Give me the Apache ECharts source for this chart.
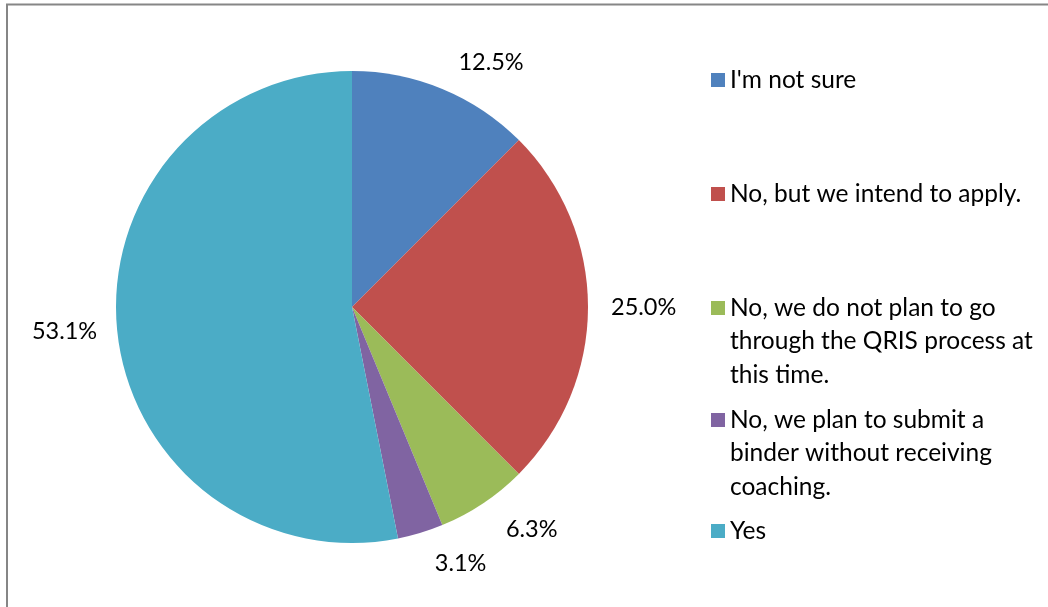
<!DOCTYPE html>
<html>
<head>
<meta charset="utf-8">
<script src="https://cdn.jsdelivr.net/npm/echarts@6/dist/echarts.min.js"></script>
<style>html,body{margin:0;padding:0;background:#fff}#c{width:1048px;height:607px}</style>
</head>
<body>
<div id="c"></div>
<script>
const categories = ["I'm not sure", "No, but we intend to apply.", "No, we do not plan to go through the QRIS process at this time.", "No, we plan to submit a binder without receiving coaching.", "Yes"];
const legendLabels = ["I'm not sure", "No, but we intend to apply.", "No, we do not plan to go\nthrough the QRIS process at\nthis time.", "No, we plan to submit a\nbinder without receiving\ncoaching.", "Yes"];
const counts = [4, 8, 2, 1, 17];
const colors = ['#4F81BD', '#C0504D', '#9BBB59', '#8064A2', '#4BACC6'];

const FONT = 'Lato';
const LINE_H = 33.5;
const labelLen = [29, 18, 32, 32, 15];
const legendCenters = [80, 194, 308, 420, 531];

const total = counts.reduce((a, b) => a + b, 0);
const legends = categories.map((name, i) => {
  const nLines = legendLabels[i].split('\n').length;
  // blank lines above keep the swatch level with the first text line
  const text = '\n'.repeat(nLines - 1) + legendLabels[i];
  const boxH = (2 * nLines - 1) * LINE_H;
  return {
    data: [name],
    orient: 'vertical',
    left: 706,
    top: legendCenters[i] - boxH / 2 - 5,
    itemWidth: 14,
    itemHeight: 14,
    icon: 'rect',
    formatter: () => text,
    textStyle: {
      fontFamily: FONT, fontSize: 24.5, color: '#000', lineHeight: LINE_H
    }
  };
});

const chart = echarts.init(document.getElementById('c'), null, {renderer: 'canvas'});
chart.setOption({
  animation: false,
  color: colors,
  graphic: [{
    type: 'rect', silent: true, z: -10,
    shape: {x: 7, y: 4.5, width: 2000, height: 2000},
    style: {fill: 'none', stroke: '#868686', lineWidth: 2}
  }],
  legend: legends,
  series: [{
    type: 'pie',
    center: [352, 307],
    radius: 236,
    startAngle: 90,
    clockwise: true,
    avoidLabelOverlap: false,
    itemStyle: {borderWidth: 0},
    label: {
      show: true, position: 'outside',
      fontFamily: FONT, fontSize: 23.5, color: '#000',
      formatter: p => (p.value / total * 100).toFixed(1) + '%'
    },
    labelLine: {show: false, length2: 0},
    emphasis: {disabled: true},
    data: categories.map((name, i) => ({
      name, value: counts[i],
      labelLine: {show: false, length: labelLen[i], length2: 0}
    }))
  }]
});
</script>
</body>
</html>
